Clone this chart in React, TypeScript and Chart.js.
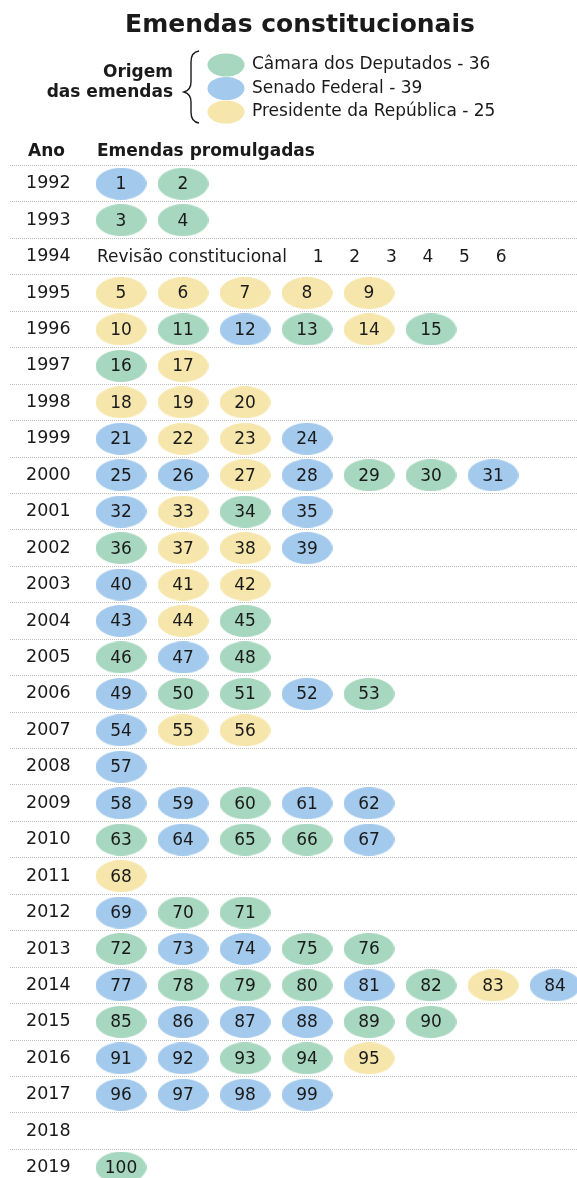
import React, { useEffect, useRef } from 'react';
import { Chart, registerables } from 'chart.js';

Chart.register(...registerables);

const title = 'Emendas constitucionais';
const legendTitle = ['Origem', 'das emendas'];
const originKeys = ['C', 'S', 'P'];
const originNames = ['Câmara dos Deputados', 'Senado Federal', 'Presidente da República'];
const originColors = ['#a7d7bf', '#a3c9ec', '#f6e6ab'];
const headerYear = 'Ano';
const headerAmendments = 'Emendas promulgadas';

const years = [
  '1992', '1993', '1994', '1995', '1996', '1997', '1998', '1999', '2000', '2001',
  '2002', '2003', '2004', '2005', '2006', '2007', '2008', '2009', '2010', '2011',
  '2012', '2013', '2014', '2015', '2016', '2017', '2018', '2019',
];

// origin of each amendment promulgated per year, in numeric order
// C = Câmara dos Deputados, S = Senado Federal, P = Presidente da República
const rowOrigins = [
  'SC', // 1992
  'CC', // 1993
  '', // 1994
  'PPPPP', // 1995
  'PCSCPC', // 1996
  'CP', // 1997
  'PPP', // 1998
  'SPPS', // 1999
  'SSPSCCS', // 2000
  'SPCS', // 2001
  'CPPS', // 2002
  'SPP', // 2003
  'SPC', // 2004
  'CSC', // 2005
  'SCCSC', // 2006
  'SPP', // 2007
  'S', // 2008
  'SSCSS', // 2009
  'CSCCS', // 2010
  'P', // 2011
  'SCC', // 2012
  'CSSCC', // 2013
  'SCCCSCPS', // 2014
  'CSSSCC', // 2015
  'SSCCP', // 2016
  'SSSS', // 2017
  '', // 2018
  'C', // 2019
];

const revisionYear = '1994';
const revisionLabel = 'Revisão constitucional';
const revisionNumbers = ['1', '2', '3', '4', '5', '6'];
const revisionStart = 3.18;
const revisionStep = 0.59;

const FONT = '"DejaVu Sans", sans-serif';
const INK = '#1a1a1a';

function makeEllipse(color: string, w: number, h: number) {
  const c = document.createElement('canvas');
  c.width = w;
  c.height = h;
  const g = c.getContext('2d')!;
  g.fillStyle = color;
  g.beginPath();
  g.ellipse(w / 2, h / 2, w / 2, h / 2, 0, 0, Math.PI * 2);
  g.fill();
  return c;
}

export default function App() {
  const ref = useRef<HTMLCanvasElement | null>(null);

  useEffect(() => {
    document.body.style.margin = '0';
    const canvas = ref.current;
    if (!canvas) return;

    const pts: Record<string, { x: number; y: string; n: number }[]> = { C: [], S: [], P: [] };
    let n = 0;
    years.forEach((yr, yi) => {
      rowOrigins[yi].split('').forEach((o, col) => {
        n += 1;
        pts[o].push({ x: col, y: yr, n });
      });
    });
    const counts = originKeys.map((k) => pts[k].length);

    const datasets = originKeys.map((k, i) => ({
      label: originNames[i],
      data: pts[k],
      pointStyle: makeEllipse(originColors[i], 51, 32) as any,
      pointRadius: 16,
      pointHoverRadius: 16,
      backgroundColor: originColors[i],
      borderWidth: 0,
      clip: false,
    }));

    const headerPlugin = {
      id: 'header',
      afterDraw(chart: any) {
        const ctx = chart.ctx as CanvasRenderingContext2D;
        ctx.save();
        ctx.fillStyle = INK;
        ctx.textBaseline = 'middle';
        ctx.font = `bold 25px ${FONT}`;
        ctx.textAlign = 'center';
        ctx.fillText(title, 300, 25);
        ctx.font = `bold 17px ${FONT}`;
        ctx.textAlign = 'right';
        ctx.fillText(legendTitle[0], 173, 73);
        ctx.fillText(legendTitle[1], 173, 93);
        ctx.strokeStyle = INK;
        ctx.lineWidth = 1.4;
        ctx.beginPath();
        ctx.moveTo(199, 51);
        ctx.quadraticCurveTo(191, 52, 191, 62);
        ctx.lineTo(191, 82);
        ctx.quadraticCurveTo(191, 90, 184, 92);
        ctx.quadraticCurveTo(191, 94, 191, 102);
        ctx.lineTo(191, 112);
        ctx.quadraticCurveTo(191, 122, 199, 123);
        ctx.stroke();
        const ly = [65, 88.5, 112];
        ctx.textAlign = 'left';
        ctx.font = `17px ${FONT}`;
        originNames.forEach((name, i) => {
          ctx.fillStyle = originColors[i];
          ctx.beginPath();
          ctx.ellipse(226, ly[i], 18.5, 11.5, 0, 0, Math.PI * 2);
          ctx.fill();
          ctx.fillStyle = INK;
          ctx.fillText(`${name} - ${counts[i]}`, 252, ly[i]);
        });
        ctx.font = `bold 17px ${FONT}`;
        ctx.fillText(headerYear, 28, 152);
        ctx.fillText(headerAmendments, 97, 152);
        ctx.restore();
      },
    };

    const labelPlugin = {
      id: 'numbers',
      afterDatasetsDraw(chart: any) {
        const ctx = chart.ctx as CanvasRenderingContext2D;
        ctx.save();
        ctx.font = `17px ${FONT}`;
        ctx.fillStyle = INK;
        ctx.textAlign = 'center';
        ctx.textBaseline = 'middle';
        chart.data.datasets.forEach((ds: any, i: number) => {
          const meta = chart.getDatasetMeta(i);
          meta.data.forEach((el: any, j: number) => {
            ctx.fillText(String(ds.data[j].n), el.x, el.y + 1);
          });
        });
        const xs = chart.scales.x;
        const ys = chart.scales.y;
        const yy = ys.getPixelForValue(years.indexOf(revisionYear)) + 1;
        ctx.textAlign = 'left';
        ctx.fillText(revisionLabel, xs.getPixelForValue(0) - 24, yy);
        ctx.textAlign = 'center';
        revisionNumbers.forEach((t, i) => {
          ctx.fillText(t, xs.getPixelForValue(revisionStart + i * revisionStep), yy);
        });
        ctx.restore();
      },
    };

    const rowH = 36.44;
    const top = 165.5;
    const H = 1190;

    const chart = new Chart(canvas, {
      type: 'scatter',
      data: { datasets: datasets as any },
      options: {
        animation: false,
        responsive: false,
        events: [],
        layout: {
          autoPadding: false,
          padding: { left: 10, right: 0, top, bottom: H - top - rowH * years.length },
        },
        plugins: { legend: { display: false }, tooltip: { enabled: false }, title: { display: false } },
        scales: {
          x: {
            type: 'linear',
            display: false,
            min: -111 / 62,
            max: -111 / 62 + 567 / 62,
          },
          y: {
            type: 'category',
            labels: years,
            offset: true,
            afterFit: (s: any) => {
              s.width = 0;
              s.paddingTop = 0;
              s.paddingBottom = 0;
            },
            grid: {
              offset: true,
              color: '#bdbdbd',
              lineWidth: 1,
              drawTicks: false,
            },
            border: { display: false, dash: [1, 1] },
            ticks: {
              mirror: true,
              crossAlign: 'center',
              padding: 16,
              color: INK,
              font: { family: 'DejaVu Sans', size: 17.5 },
            },
          },
        },
      },
      plugins: [labelPlugin, headerPlugin],
    } as any);

    return () => chart.destroy();
  }, []);

  return (
    <div style={{ width: 577, height: 1178, overflow: 'hidden', position: 'relative', background: '#fff' }}>
      <canvas ref={ref} width={577} height={1190} style={{ display: 'block' }} />
    </div>
  );
}
